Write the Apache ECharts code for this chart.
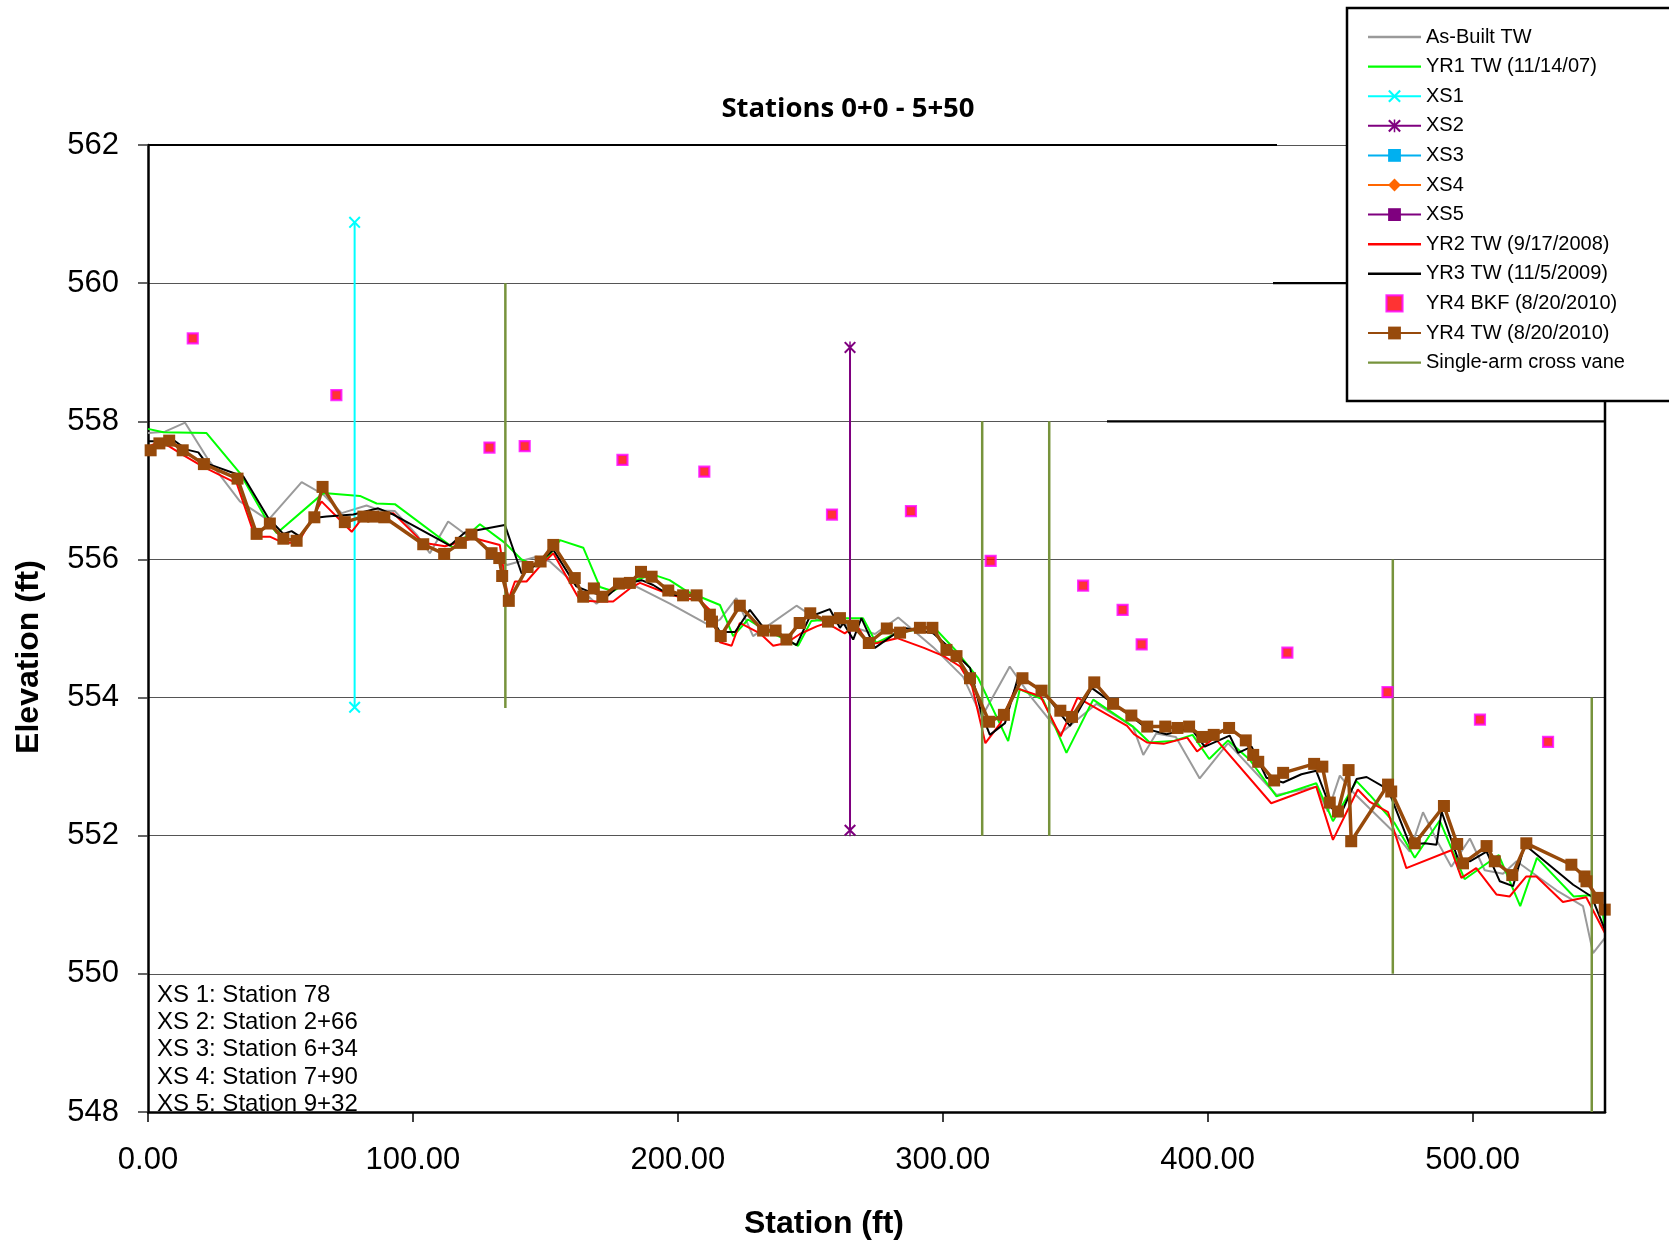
<!DOCTYPE html>
<html>
<head>
<meta charset="utf-8">
<script src="https://cdn.jsdelivr.net/npm/echarts@6/dist/echarts.min.js"></script>
<style>html,body{margin:0;padding:0;background:#fff;}#c{width:1669px;height:1243px;}</style>
</head>
<body>
<div id="c"></div>
<script>
// ---------- DATA ----------
const asBuilt = [[0,557.83],[6.4,557.85],[14,557.98],[22.8,557.44],[34.7,556.84],[45.4,556.57],[58,557.12],[66.2,556.94],[73.1,556.67],[82.5,556.78],[87.6,556.71],[93.2,556.7],[101.4,556.36],[106.4,556.09],[113.3,556.55],[119.3,556.38],[124,556.28],[135.5,555.92],[146.7,556.04],[151.7,555.97],[169.3,555.36],[175.6,555.56],[180.6,555.68],[197,555.36],[212.1,555.04],[215.9,555.13],[222.1,555.44],[228.4,554.89],[244.8,555.33],[253,555.12],[263.6,555.05],[274.4,554.92],[283.2,555.16],[296.4,554.73],[307.7,554.3],[314.7,553.72],[325.3,554.45],[333.3,554.01],[344.4,553.48],[358.1,553.91],[371.8,553.58],[375.7,553.17],[380.6,553.48],[388,553.43],[397,552.83],[407.7,553.34],[426,552.59],[441,552.71],[445.4,552.35],[449.9,552.87],[454.9,552.63],[470.6,552.04],[476.3,551.77],[481.3,552.34],[486.4,551.94],[492,551.55],[499,551.96],[504.6,551.5],[511.5,551.45],[516.6,551.63],[531.7,551.21],[541.7,550.98],[545.5,550.3],[550,550.52]];
const yr1TW = [[0,557.89],[5.8,557.84],[22.1,557.83],[34.7,557.25],[44.8,556.57],[48.6,556.38],[66.2,556.96],[80,556.92],[86.3,556.81],[93.2,556.8],[115.2,556.17],[125.3,556.51],[134.7,556.24],[141,556.0],[146.7,555.9],[151.7,556.07],[155.5,556.28],[164.3,556.17],[170.6,555.6],[175.6,555.54],[180.6,555.66],[190.7,555.78],[196.9,555.7],[203.3,555.54],[215.9,555.34],[220.9,554.89],[226.5,555.13],[231.6,555.01],[245.4,554.75],[250.4,555.11],[261.1,555.15],[269.9,555.15],[274.9,554.79],[282.4,554.93],[296.4,555.03],[305.2,554.67],[313.4,554.28],[324.7,553.37],[329.1,554.12],[337.9,553.97],[346.7,553.2],[356.8,553.97],[371.8,553.58],[378.1,553.35],[386.9,553.37],[394.3,553.46],[400.6,553.11],[407.7,553.38],[415.9,553.1],[426,552.57],[441,552.76],[447.3,552.21],[456.2,552.79],[461.2,552.59],[470.6,552.18],[478.2,551.68],[487.6,552.22],[497,551.37],[509.9,551.72],[518,550.98],[524.3,551.68],[538.2,551.12],[548.2,551.15],[550.5,550.5]];
const yr2TW = [[0,557.63],[4.5,557.71],[8.3,557.63],[13.3,557.51],[20.9,557.34],[33.5,557.1],[40.4,556.33],[46,556.33],[51.1,556.24],[56.7,556.24],[65.5,556.84],[76.9,556.4],[81.3,556.62],[92.6,556.67],[103.9,556.24],[112.1,556.19],[122.8,556.31],[132.8,556.21],[136,555.41],[138.5,555.68],[142.9,555.68],[147.9,555.9],[153,556.09],[163,555.41],[169.3,555.39],[175.6,555.39],[181.9,555.58],[185.7,555.66],[195.8,555.51],[202,555.44],[208.3,555.41],[212.1,555.27],[215.9,554.8],[220.3,554.75],[223.4,555.08],[231,554.93],[236,554.75],[241,554.79],[246.1,554.92],[252.4,555.03],[256.1,555.08],[263,554.93],[267.4,555.05],[272.1,554.77],[275.3,554.79],[282.8,554.86],[292.9,554.72],[300.4,554.6],[306.6,554.45],[311.1,554.16],[316.1,553.34],[321.8,553.63],[327.5,554.14],[336.9,554.02],[344.5,553.44],[350.9,554.0],[369.6,553.59],[372.2,553.47],[377.1,553.35],[383.4,553.33],[392.3,553.42],[396,553.22],[402.6,553.42],[424,552.47],[429.6,552.55],[441,552.71],[447.3,551.94],[456.7,552.67],[461.2,552.49],[468.1,552.34],[475,551.53],[492,551.79],[495.8,551.39],[501.4,551.53],[509,551.15],[514,551.12],[520.3,551.41],[524.1,551.41],[534.1,551.04],[542.9,551.11],[550.5,550.55]];
const yr3TW = [[0,557.71],[4.5,557.71],[9.6,557.73],[14.6,557.59],[19,557.55],[22.1,557.39],[36,557.2],[45.4,556.6],[51.1,556.37],[54.2,556.41],[57.4,556.33],[62.4,556.6],[67.4,556.62],[77.5,556.65],[86.9,556.74],[92.6,556.65],[114,556.2],[119.6,556.39],[134.7,556.5],[141,555.8],[146.7,555.92],[153,556.14],[161.7,555.61],[166.8,555.53],[173.1,555.46],[178.1,555.63],[186.3,555.7],[190.7,555.63],[197,555.48],[207.1,555.48],[210.9,555.27],[215.9,554.95],[221.6,554.95],[227.2,555.27],[232.2,555.02],[239.8,554.87],[244.8,554.76],[249.8,555.17],[257.4,555.28],[261.2,555.01],[262.5,555.08],[266.2,554.84],[269.3,555.15],[274.4,554.72],[285.1,555.01],[296.4,554.93],[301.4,554.76],[310.3,554.43],[314.7,553.76],[317.8,553.46],[323.5,553.63],[328.5,554.3],[334.2,554.18],[339.2,554.02],[348,553.59],[356.2,554.14],[371.8,553.71],[377.5,553.54],[384.5,553.47],[393.6,553.56],[398.9,553.29],[408.3,553.45],[411.5,553.2],[416.6,553.29],[422.2,552.84],[428.5,552.77],[435.4,552.89],[441,552.94],[446.1,552.43],[449.9,552.28],[456.2,552.82],[460,552.85],[468.1,552.67],[476.3,551.87],[481.9,551.89],[486.4,551.87],[488.3,552.35],[494.6,551.65],[499,551.63],[505.3,551.77],[510.3,551.34],[515.3,551.27],[519.7,551.87],[538,551.29],[544.9,551.12],[550.5,550.59]];
const yr4TW = [[1,557.58],[4.3,557.68],[8,557.72],[13.1,557.58],[21.1,557.38],[33.8,557.17],[41,556.37],[46,556.52],[51.1,556.3],[56.1,556.27],[62.8,556.61],[65.9,557.05],[74.3,556.54],[81.3,556.62],[85,556.62],[89.2,556.61],[103.9,556.22],[111.8,556.08],[118.1,556.24],[122.1,556.36],[129.7,556.09],[132.6,556.02],[133.7,555.76],[136.2,555.4],[143.3,555.89],[148.2,555.97],[153,556.21],[161.1,555.73],[164.3,555.46],[168.3,555.58],[171.5,555.46],[177.8,555.65],[181.9,555.66],[186.1,555.82],[190.1,555.75],[196.4,555.55],[202,555.48],[207.1,555.48],[212.1,555.2],[212.9,555.1],[216.2,554.89],[223.4,555.33],[232.2,554.97],[236.9,554.97],[241,554.84],[246,555.08],[250,555.22],[256.7,555.1],[261.2,555.15],[266.2,555.04],[272.1,554.79],[278.9,555.0],[283.9,554.94],[291.4,555.01],[296.1,555.01],[301.4,554.69],[305.2,554.6],[310.3,554.28],[317.5,553.65],[323.1,553.75],[330.1,554.28],[337.3,554.1],[344.4,553.81],[348.8,553.72],[357.2,554.22],[364.3,553.91],[371.2,553.74],[377.2,553.58],[384,553.58],[388.6,553.56],[393,553.58],[398,553.43],[402.3,553.46],[408.1,553.56],[414.4,553.38],[417.2,553.17],[419.1,553.07],[425.1,552.8],[428.5,552.91],[440.2,553.04],[443.3,553.0],[446.1,552.48],[449.2,552.35],[453.2,552.95],[454.2,551.92],[468.1,552.74],[469.3,552.64],[478.2,551.89],[489.2,552.43],[494.2,551.88],[496.4,551.6],[505.3,551.85],[508.4,551.63],[515,551.43],[520.3,551.89],[537.3,551.58],[542.3,551.41],[543,551.34],[547.3,551.1],[549.9,550.93]];
const yr4BKF = [[16.9,559.2],[71.1,558.38],[128.9,557.62],[142.2,557.64],[179.1,557.44],[210,557.27],[258.2,556.65],[288,556.7],[318.1,555.98],[353,555.62],[367.9,555.27],[375.1,554.77],[430.1,554.65],[467.9,554.08],[502.8,553.68],[528.5,553.36]];
const xs1 = [[78,560.88],[78,553.86]];
const xs2 = [[265,559.07],[265,552.08]];
const vaneStations = [134.9, 314.9, 340.2, 469.9, 545.0];
const vaneTops = [560, 558, 558, 556, 554];
const vaneBottoms = [553.85, 552, 552, 550, 548];
const xsNotes = ['XS 1: Station 78','XS 2: Station 2+66','XS 3: Station 6+34','XS 4: Station 7+90','XS 5: Station 9+32'];
const seriesNames = ['As-Built TW','YR1 TW (11/14/07)','XS1','XS2','XS3','XS4','XS5','YR2 TW (9/17/2008)','YR3 TW (11/5/2009)','YR4 BKF (8/20/2010)','YR4 TW (8/20/2010)','Single-arm cross vane'];
const titleText = 'Stations 0+0 - 5+50';

// ---------- CHART ----------
const FONT = 'Liberation Sans, Arial, sans-serif';
const X_ICON = 'path://M0,1.2L1.2,0L5,3.8L8.8,0L10,1.2L6.2,5L10,8.8L8.8,10L5,6.2L1.2,10L0,8.8L3.8,5Z';
const STAR_ICON = 'path://M0,1.2L1.2,0L5,3.8L8.8,0L10,1.2L6.2,5L10,8.8L8.8,10L5,6.2L1.2,10L0,8.8L3.8,5Z M4.4,0L5.6,0L5.6,10L4.4,10Z';
const LINE_ICON = 'path://M0,0H53V2.4H0Z';
const SQUARE_ICON = 'path://M0,0H10V10H0Z';

function lineS(name, data, color, width, extra) {
  return Object.assign({
    name, type: 'line', data, symbol: 'none', animation: false,
    lineStyle: { color, width }, itemStyle: { color }, z: 2
  }, extra || {});
}

const series = [
  lineS(seriesNames[0], asBuilt, '#9A9A9A', 2),
  lineS(seriesNames[1], yr1TW, '#00FF00', 2),
  lineS(seriesNames[2], xs1, '#00FFFF', 2, { symbol: X_ICON, symbolSize: 12 }),
  lineS(seriesNames[3], xs2, '#7F007F', 2, { symbol: STAR_ICON, symbolSize: 12 }),
  lineS(seriesNames[4], [], '#00B0F0', 2, { symbol: 'path://M0,0H12V4H0Z', symbolKeepAspect: true, symbolSize: 12 }),
  lineS(seriesNames[5], [], '#FF6600', 2, { symbol: 'diamond', symbolSize: 11 }),
  lineS(seriesNames[6], [], '#7F007F', 2, { symbol: 'rect', symbolSize: 12 }),
  lineS(seriesNames[7], yr2TW, '#FF0000', 2),
  lineS(seriesNames[8], yr3TW, '#000000', 2),
  { name: seriesNames[9], type: 'scatter', data: yr4BKF, symbol: 'rect', symbolSize: 10, animation: false,
    itemStyle: { color: '#FF0000', borderColor: '#FF00FF', borderWidth: 2.2 }, z: 3 },
  lineS(seriesNames[10], yr4TW, '#974A0B', 3.5, { symbol: 'rect', symbolSize: 12, z: 4 }),
];
vaneStations.forEach((s, i) => {
  series.push(lineS(seriesNames[11], [[s, vaneTops[i]], [s, vaneBottoms[i]]], '#77933C', 2.5, { z: 3 }));
});

const lineOnly = new Set([seriesNames[0], seriesNames[1], seriesNames[7], seriesNames[8], seriesNames[11]]);
const legendData = seriesNames.map(n => {
  if (lineOnly.has(n)) return { name: n, icon: LINE_ICON };
  if (n === seriesNames[9]) return { name: n, icon: SQUARE_ICON, itemStyle: { color: '#FF0000', borderColor: '#FF00FF', borderWidth: 2.2 } };
  return { name: n };
});

const graphics = [
  { type: 'rect', z: 3, shape: { x: 1347, y: 8, width: 340, height: 393 },
    style: { fill: '#fff', stroke: '#000', lineWidth: 2.5 } },
  { type: 'line', z: 5, shape: { x1: 148, y1: 145, x2: 1277, y2: 145 }, style: { stroke: '#000', lineWidth: 2.2 } },
  { type: 'line', z: 5, shape: { x1: 1273, y1: 283.2, x2: 1347, y2: 283.2 }, style: { stroke: '#000', lineWidth: 2.2 } },
  { type: 'line', z: 5, shape: { x1: 1107, y1: 421.4, x2: 1605, y2: 421.4 }, style: { stroke: '#000', lineWidth: 2.2 } },
  { type: 'line', z: 5, shape: { x1: 1605, y1: 401, x2: 1605, y2: 1113 }, style: { stroke: '#000', lineWidth: 2.5 } },
  { type: 'text', z: 10, x: 848, y: 109,
    style: { text: titleText, font: 'bold 27.5px "Open Sans", sans-serif', fill: '#000', textAlign: 'center', textVerticalAlign: 'middle' } },
  { type: 'text', z: 10, x: 29, y: 657, rotation: Math.PI / 2,
    style: { text: 'Elevation (ft)', font: 'bold 32px ' + FONT, fill: '#000', textAlign: 'center', textVerticalAlign: 'middle' } },
  { type: 'text', z: 10, x: 824, y: 1224,
    style: { text: 'Station (ft)', font: 'bold 32px ' + FONT, fill: '#000', textAlign: 'center', textVerticalAlign: 'middle' } },
];
xsNotes.forEach((t, i) => {
  graphics.push({ type: 'text', z: 1, x: 157, y: 995 + i * 27.3,
    style: { text: t, font: '24px ' + FONT, fill: '#000', textAlign: 'left', textVerticalAlign: 'middle' } });
});

const chart = echarts.init(document.getElementById('c'), null, { renderer: 'canvas' });
chart.setOption({
  backgroundColor: '#fff',
  animation: false,
  grid: { left: 148, top: 145, width: 1457, height: 967, containLabel: false },
  xAxis: {
    type: 'value', min: 0, max: 550, interval: 100,
    axisLine: { show: true, onZero: false, lineStyle: { color: '#000', width: 2.5 } },
    axisTick: { show: true, inside: false, length: 10, lineStyle: { color: '#000', width: 1.5 } },
    axisLabel: { margin: 33, fontSize: 31, fontFamily: FONT, color: '#000', showMaxLabel: false,
      formatter: v => v.toFixed(2) },
    splitLine: { show: false }
  },
  yAxis: {
    type: 'value', min: 548, max: 562, interval: 2,
    axisLine: { show: true, onZero: false, lineStyle: { color: '#000', width: 2.5 } },
    axisTick: { show: true, inside: false, length: 10, lineStyle: { color: '#333', width: 1.5 } },
    axisLabel: { margin: 29, fontSize: 31, fontFamily: FONT, color: '#000' },
    splitLine: { show: true, lineStyle: { color: '#555', width: 1.2 } }
  },
  legend: {
    orient: 'vertical', left: 1367, top: 27, padding: 0,
    itemWidth: 53, itemHeight: 16, itemGap: 9.6, selectedMode: false, z: 6,
    textStyle: { fontSize: 20, fontFamily: FONT, color: '#000', lineHeight: 20 },
    data: legendData
  },
  graphic: graphics,
  series
});
</script>
</body>
</html>
